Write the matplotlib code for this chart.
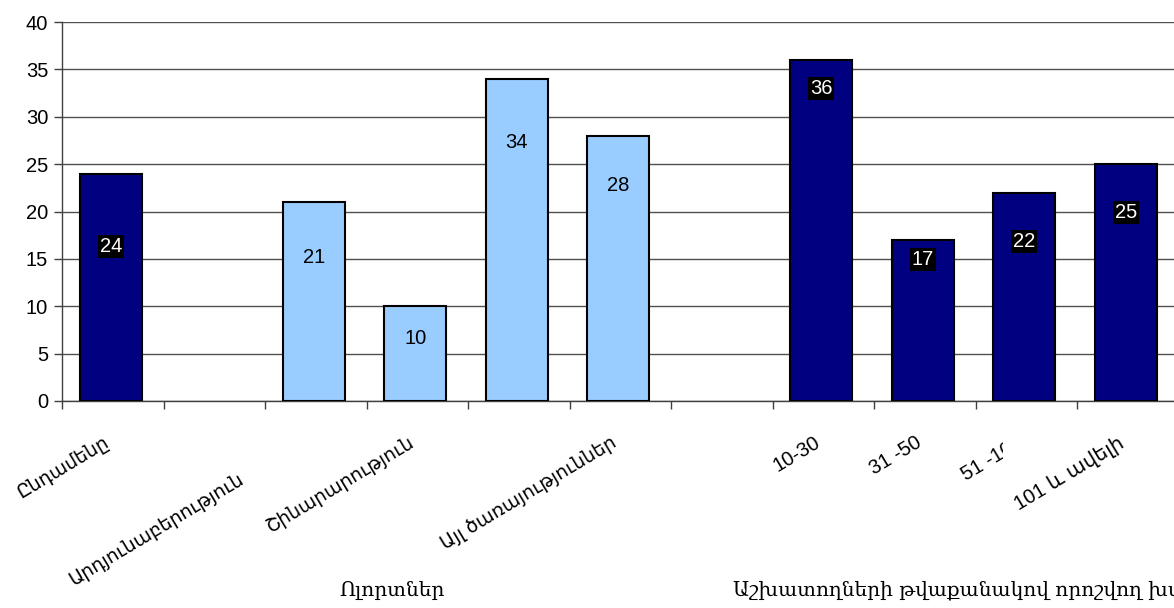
import matplotlib.pyplot as plt
from matplotlib.transforms import Bbox, TransformedBbox, ScaledTranslation, blended_transform_factory

# data
categories = ["Ընդամենը", "Արդյունաբերություն", "", "Շինարարություն", "",
              "Այլ ծառայություններ", "", "10-30", "31 -50", "51 -100", "101 և ավելի"]
values = [24, None, 21, 10, 34, 28, None, 36, 17, 22, 25]
is_dark = [True, False, False, False, False, False, False, True, True, True, True]
group_names = ["Ոլորտներ", "Աշխատողների թվաքանակով որոշվող խմբեր"]

# style / placement
dark, light = "#000080", "#99CCFF"
label_pos = [16.3, None, 15.1, 6.6, 27.3, 22.7, None, 33.0, 14.9, 16.8, 19.9]
label_dy = [0, 1, 0, 0, 0, 0, 0, 0, 0, 0, 0]   # one label sits lower
fonts = ["Liberation Sans", "DejaVu Sans"]

fig = plt.figure(figsize=(11.74, 6.08), dpi=100)
ax = fig.add_axes([62 / 1174, 207 / 608, 1116.5 / 1174, 379 / 608])

xs = [i for i, v in enumerate(values) if v is not None]
vs = [v for v in values if v is not None]
cols = [dark if is_dark[i] else light for i in xs]
ax.bar([x - 0.02 for x in xs], vs, width=0.61, color=cols, edgecolor="black",
       linewidth=1.5, zorder=3)

for i in xs:
    if is_dark[i]:
        ax.text(i - 0.02, label_pos[i], str(values[i]), ha="center", va="center", color="white",
                fontsize=14.5, family=fonts, zorder=4,
                bbox=dict(boxstyle="square,pad=0.1", fc="black", ec="none"))
    else:
        ax.text(i - 0.02, label_pos[i], str(values[i]), ha="center", va="center", color="black",
                fontsize=14.5, family=fonts, zorder=4)

ax.set_xlim(-0.5, len(categories) - 0.5)
ax.set_ylim(0, 40)
ax.set_yticks(range(0, 41, 5))
ax.yaxis.grid(True, color="#505050", linewidth=1, zorder=0)
ax.set_xticks([i - 0.5 for i in range(len(categories) + 1)])
ax.set_xticklabels([])
ax.tick_params(axis="x", length=6, width=1, color="#404040")
ax.tick_params(axis="y", length=6, width=1, color="#404040", pad=4, labelsize=14.5)
for t in ax.get_yticklabels():
    t.set_family(fonts)
for s in ["top", "right"]:
    ax.spines[s].set_visible(False)
for s in ["left", "bottom"]:
    ax.spines[s].set_color("#404040")
    ax.spines[s].set_linewidth(1)

# rotated category labels, anchored at their end below each bar
blend = blended_transform_factory(ax.transData, ax.transAxes)
clip = TransformedBbox(Bbox([[0, 0], [1003 / 1174, 1]]), fig.transFigure)
for i, name in enumerate(categories):
    if not name:
        continue
    if label_dy[i]:
        off = ScaledTranslation(17 / 72, -50 / 72, fig.dpi_scale_trans)
    else:
        off = ScaledTranslation(-7 / 72, -23 / 72, fig.dpi_scale_trans)
    size = 14.5 if name[0].isdigit() else 13.5
    t = ax.text(i, 0, name, transform=blend + off, rotation=31, rotation_mode="anchor",
                ha="right", va="top", fontsize=size, family=fonts)
    if i == 9:
        t.set_clip_box(clip)
        t.set_clip_on(True)

ax.text(2.75, -0.5, group_names[0], transform=blend, ha="center", va="center",
        fontsize=14.5, family=["DejaVu Serif", "DejaVu Sans"])
ax.text(6.11, -0.5, group_names[1], transform=blend, ha="left", va="center",
        fontsize=14.5, family=["DejaVu Serif", "DejaVu Sans"])

fig.savefig("out.png", dpi=100)
